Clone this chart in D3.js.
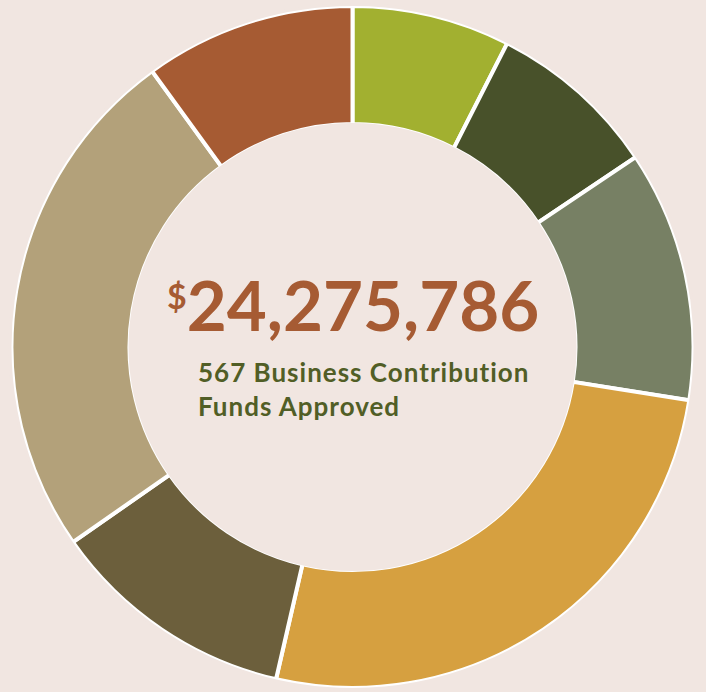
<!DOCTYPE html>
<html>
<head>
    <title>Business Contribution Funds</title>
    <script src="https://d3js.org/d3.v7.min.js"></script>
    <style>
        body { margin: 0; background: #f1e6e1; }
    </style>
</head>
<body>
    <svg width="706" height="692"></svg>
    <script>
        // shares of total (percent), clockwise from 12 o'clock
        const categories = ["Segment 1", "Segment 2", "Segment 3", "Segment 4", "Segment 5", "Segment 6", "Segment 7"];
        const shares = [7.5, 8.1, 11.9, 26.1, 11.7, 24.7, 10.0];
        const colors = ["#a2b030", "#48512a", "#778064", "#d6a040", "#6c5f3c", "#b3a17a", "#a65b33"];

        const totalAmount = "24,275,786";
        const subtitleLines = ["567 Business Contribution", "Funds Approved"];

        const data = categories.map((c, i) => ({ name: c, value: shares[i], color: colors[i] }));

        const svg = d3.select("svg"),
              cx = 352.5, cy = 347,
              outerR = 341, innerR = 223;

        const g = svg.append("g").attr("transform", `translate(${cx},${cy})`);

        const pie = d3.pie().value(d => d.value).sort(null);
        const arc = d3.arc().innerRadius(innerR).outerRadius(outerR);

        g.selectAll("path")
         .data(pie(data))
         .enter().append("path")
         .attr("d", arc)
         .attr("fill", d => d.data.color)
         .attr("stroke", "#fff")
         .attr("stroke-width", 4)
         .attr("stroke-linejoin", "miter");

        // re-draw the outer/inner edge so the white stroke only shows between slices
        g.append("circle").attr("r", innerR + 1).attr("fill", "#f1e6e1");
        g.append("circle").attr("r", outerR + 1.5).attr("fill", "none")
         .attr("stroke", "#f1e6e1").attr("stroke-width", 3);

        // center label
        const amount = svg.append("text")
            .attr("x", 193)
            .attr("y", 331)
            .attr("fill", "#a65b33")
            .style("font-family", "Lato, sans-serif")
            .style("font-weight", "bold");

        amount.append("tspan")
            .attr("font-size", 34)
            .attr("dx", -26)
            .attr("dy", -22)
            .text("$");

        amount.append("tspan")
            .attr("font-size", 69)
            .attr("dy", 22)
            .text(totalAmount);

        svg.selectAll(".sub")
           .data(subtitleLines)
           .enter().append("text")
           .attr("class", "sub")
           .attr("x", 198)
           .attr("y", (d, i) => 382 + i * 34)
           .attr("fill", "#515e26")
           .style("font-family", "Lato, sans-serif")
           .style("font-weight", "bold")
           .style("font-size", "26px")
           .style("letter-spacing", "1px")
           .text(d => d);
    </script>
</body>
</html>
